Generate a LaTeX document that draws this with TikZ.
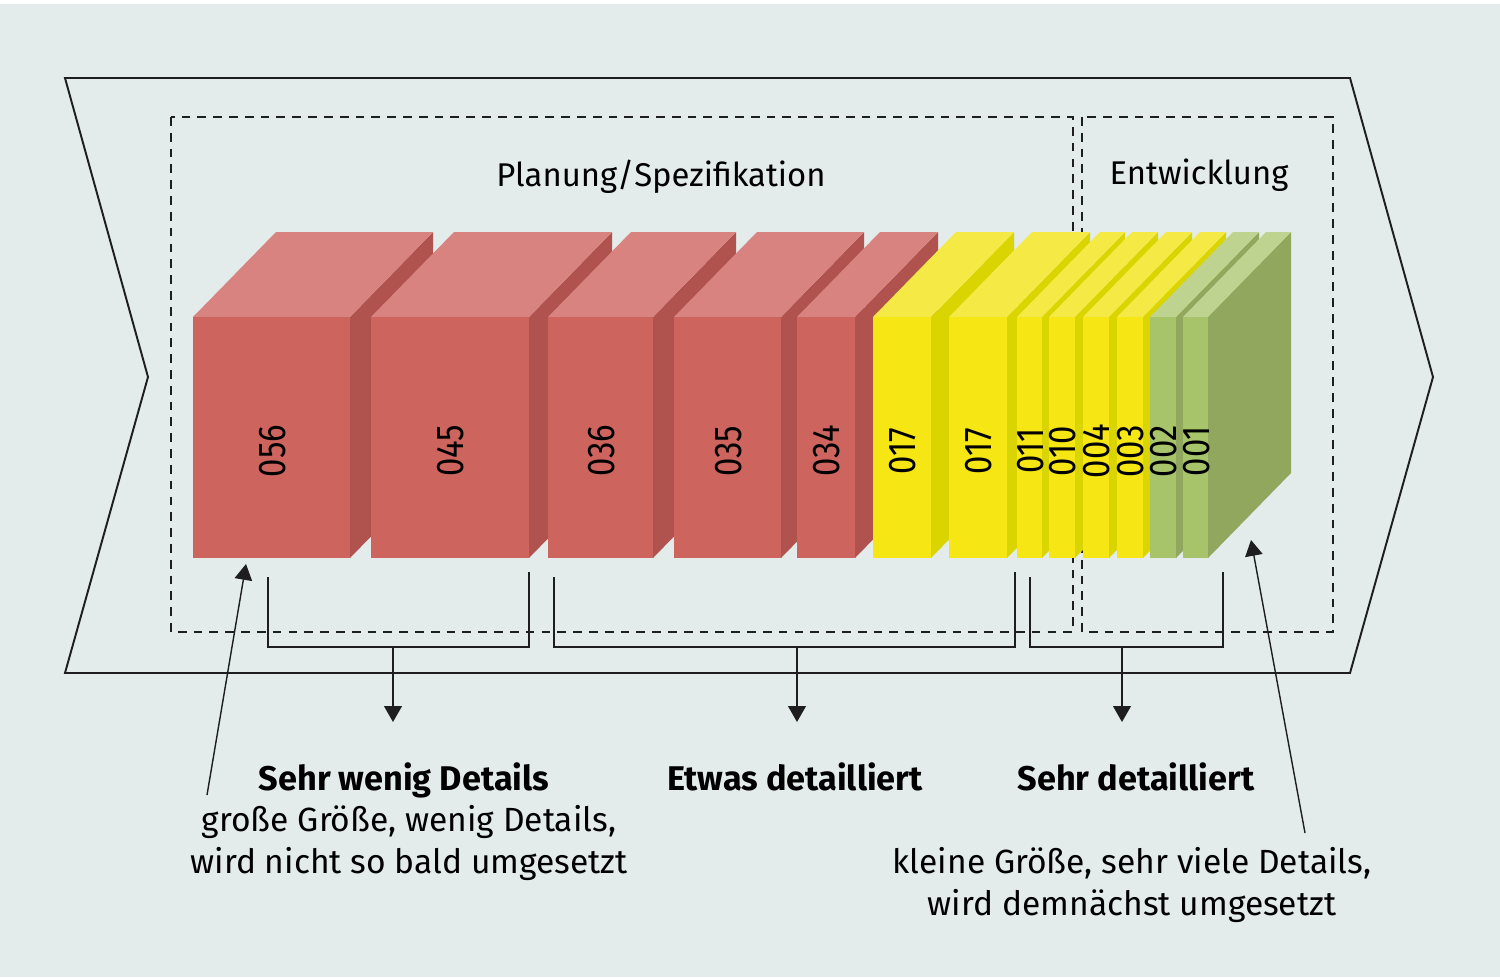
\documentclass[tikz,border=0pt]{standalone}
\usepackage{fontspec}
\setmainfont{Fira Sans}
\newfontfamily\numfont[FakeStretch=0.85]{Fira Sans}
\usetikzlibrary{arrows.meta}

\definecolor{bg}{RGB}{227,236,235}
\definecolor{frontRed}{RGB}{205,100,94}
\definecolor{topRed}{RGB}{216,131,127}
\definecolor{sideRed}{RGB}{176,83,79}
\definecolor{frontYel}{RGB}{245,230,20}
\definecolor{topYel}{RGB}{245,233,70}
\definecolor{sideYel}{RGB}{218,213,0}
\definecolor{frontGrn}{RGB}{168,196,107}
\definecolor{topGrn}{RGB}{190,211,143}
\definecolor{sideGrn}{RGB}{144,167,93}
\definecolor{ink}{RGB}{30,30,30}

\tikzset{
  outline/.style={draw=ink, line width=1.1pt},
  phase/.style={draw=ink, line width=1.1pt, dash pattern=on 5pt off 4pt},
  heading/.style={font=\fontsize{18.7}{24}\selectfont, anchor=base, inner sep=0},
  level/.style={font=\fontsize{19.5}{24}\selectfont\bfseries, anchor=base, inner sep=0},
  note/.style={font=\fontsize{19.1}{23.9}\selectfont, align=center, anchor=base, inner sep=0},
  num/.style={font=\numfont\fontsize{22}{24}\selectfont, rotate=90, inner sep=0},
}

\begin{document}
\begin{tikzpicture}[x=0.02cm, y=-0.02cm, >={Triangle[length=9pt,width=10pt]}]
\fill[white] (0,0) rectangle (1500,977);
\fill[bg] (0,4) rectangle (1500,977);
\useasboundingbox (0,0) rectangle (1500,977);
% Rahmen
\draw[outline] (65,78) -- (1350,78) -- (1433,377) -- (1350,673)
  -- (65,673) -- (148,377) -- cycle;
% Phasen
\draw[phase] (171,117) rectangle (1073,632);
\draw[phase] (1082,117) rectangle (1333,632);
\node[heading] (plan) at (661,186) {Planung/Spezifikation};
\node[heading] (entw) at (1199,184) {Entwicklung};
% Eintraege
\foreach \xa/\xb/\col/\txt [count=\i] in {193/350/Red/056, 371/529/Red/045,
  548/653/Red/036, 674/781/Red/035, 797/855/Red/034, 873/931/Yel/017,
  949/1007/Yel/017, 1017/1042/Yel/011, 1049/1075/Yel/010, 1083/1109/Yel/004,
  1117/1143/Yel/003, 1150/1176/Grn/002, 1183/1208/Grn/001}
{
  \fill[fill=side\col] (\xb,317) -- ({\xb+83},232) -- ({\xb+83},473)
    -- (\xb,558) -- cycle;
  \fill[fill=top\col] (\xa,317) -- ({\xa+83},232) -- ({\xb+83},232)
    -- (\xb,317) -- cycle;
  \fill[fill=front\col] (\xa,317) rectangle (\xb,558);
  \node[num] (item\i) at ({(\xa+\xb)/2+1},451) {\txt};
}
% Klammern
\draw[outline] (268,577) |- (529,647) -- (529,572);
\draw[outline] (554,577) |- (1015,647) -- (1015,572);
\draw[outline] (1030,577) |- (1223,647) -- (1223,572);
\coordinate (g1) at (393,647);
\coordinate (g2) at (797,647);
\coordinate (g3) at (1122,647);
\node[level] (lvl1) at (404,790) {Sehr wenig Details};
\node[level] (lvl2) at (795,790) {Etwas detailliert};
\node[level] (lvl3) at (1136,790) {Sehr detailliert};
\coordinate (g1e) at (393,722);
\coordinate (g2e) at (797,722);
\coordinate (g3e) at (1122,722);
\draw[outline,->] (g1) -- (g1e);
\draw[outline,->] (g2) -- (g2e);
\draw[outline,->] (g3) -- (g3e);
% Hinweise
\node[note] (big) at (409,873) {große Größe, wenig Details,\\wird nicht so bald umgesetzt};
\node[note] (small) at (1132,915) {kleine Größe, sehr viele Details,\\wird demnächst umgesetzt};
\coordinate (p1) at (207,795);
\coordinate (p1e) at (246,564);
\coordinate (p2) at (1305,833);
\coordinate (p2e) at (1251,540);
\draw[outline,line width=0.8pt,->] (p1) -- (p1e);
\draw[outline,line width=0.8pt,->] (p2) -- (p2e);
\end{tikzpicture}
\end{document}
